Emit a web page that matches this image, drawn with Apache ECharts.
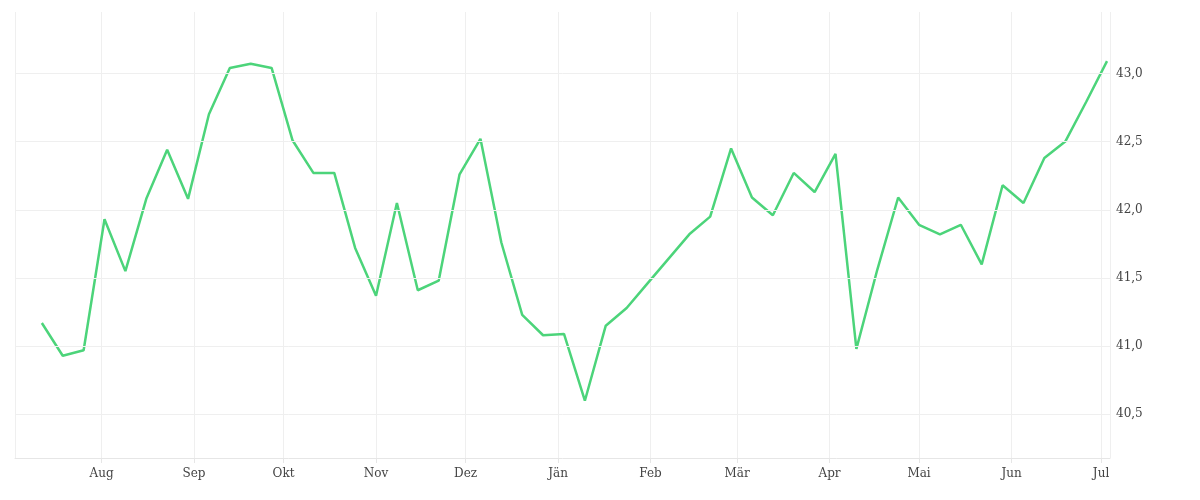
<!DOCTYPE html>
<html><head><meta charset="utf-8">
<script src="https://cdn.jsdelivr.net/npm/echarts@6/dist/echarts.min.js"></script>
<style>html,body{margin:0;padding:0;background:#fff}#c{width:1200px;height:500px}</style>
</head><body><div id="c"></div>
<script>
const startDate = '2023-07-12';
const values = [41.17,40.93,40.97,41.93,41.55,42.08,42.44,42.08,42.70,43.04,43.07,43.04,42.51,42.27,42.27,41.72,41.37,42.05,41.41,41.48,42.26,42.52,41.76,41.23,41.08,41.09,40.60,41.15,41.28,41.46,41.64,41.82,41.95,42.45,42.09,41.96,42.27,42.13,42.41,40.98,41.56,42.09,41.89,41.82,41.89,41.60,42.18,42.05,42.38,42.50,42.79,43.09];
const yTicks = [40.5,41.0,41.5,42.0,42.5,43.0];
const monthNames = ['Jän','Feb','Mär','Apr','Mai','Jun','Jul','Aug','Sep','Okt','Nov','Dez'];

const t0 = Date.parse(startDate+'T00:00:00Z');
const data = values.map((v,i)=>[t0 + i*7*864e5, v]);
const font = "'DejaVu Serif', serif";
const chart = echarts.init(document.getElementById('c'));
chart.setOption({
  animation:false,
  grid:{left:15,right:90,top:12,bottom:42},
  xAxis:{type:'time',min:Date.parse('2023-07-03T00:00:00Z'),max:Date.parse('2024-07-04T00:00:00Z'),
    minInterval:28*864e5,maxInterval:31*864e5,
    axisLine:{lineStyle:{color:'#e6e6e6'}},
    axisTick:{show:true,length:5,lineStyle:{color:'#e6e6e6'}},
    splitLine:{show:true,lineStyle:{color:'#efefef'}},
    axisLabel:{color:'#444',fontFamily:font,fontSize:12,margin:10,
      formatter:v=>monthNames[new Date(v).getUTCMonth()]}},
  yAxis:{type:'value',position:'right',min:40.18,max:43.45,
    axisLabel:{show:false},splitLine:{show:false},axisLine:{show:false},axisTick:{show:false}},
  series:[{type:'line',data:data,showSymbol:false,lineStyle:{color:'#4cd47a',width:2.5},
    markLine:{silent:true,symbol:'none',
      lineStyle:{color:'#efefef',type:'solid',width:1},
      label:{position:'end',distance:6,color:'#444',fontFamily:font,fontSize:12,
        formatter:p=>p.value.toFixed(1).replace('.',',')},
      data:yTicks.map(y=>({yAxis:y}))}}]
});
</script></body></html>
